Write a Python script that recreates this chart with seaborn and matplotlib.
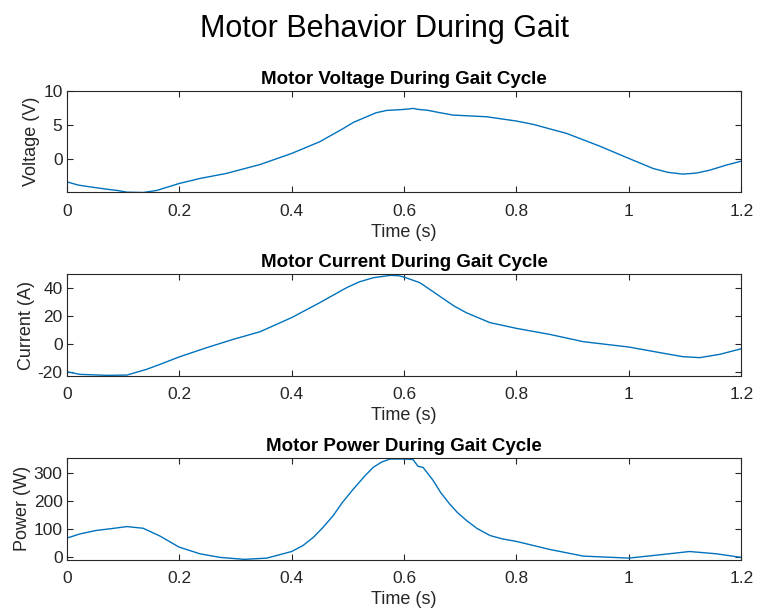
import numpy as np
import pandas as pd
import matplotlib
matplotlib.use("Agg")
import matplotlib.pyplot as plt
import seaborn as sns

# ---------------- data ----------------
t_voltage = [0.0, 0.02, 0.041, 0.071, 0.09, 0.107, 0.136, 0.16, 0.2, 0.237, 0.284,
             0.344, 0.4, 0.45, 0.492, 0.51, 0.533, 0.55, 0.569, 0.593, 0.607, 0.616, 0.625,
             0.64, 0.665, 0.687, 0.747, 0.8, 0.83, 0.889, 0.948, 1.0, 1.043, 1.07, 1.096,
             1.12, 1.144, 1.173, 1.2]
voltage = [-3.33, -3.8, -4.07, -4.41, -4.6, -4.85, -4.9, -4.6, -3.58, -2.84, -2.1,
           -0.79, 0.83, 2.55, 4.5, 5.4, 6.2, 6.8, 7.15, 7.26, 7.35, 7.45, 7.3,
           7.2, 6.8, 6.47, 6.22, 5.59, 5.1, 3.78, 1.91, 0.1, -1.37, -1.95, -2.2,
           -2.05, -1.62, -0.88, -0.3]

t_current = [0.0, 0.024, 0.071, 0.107, 0.142, 0.17, 0.2, 0.249, 0.296, 0.344, 0.4,
             0.45, 0.498, 0.52, 0.545, 0.575, 0.59, 0.6, 0.628, 0.65, 0.676, 0.69,
             0.711, 0.753, 0.8, 0.859, 0.919, 1.0, 1.055, 1.096, 1.126, 1.162, 1.2]
current = [-19.9, -21.8, -22.5, -22.3, -18.2, -14.0, -9.3, -2.65, 3.3, 8.8, 18.9,
           29.6, 40.4, 44.5, 47.5, 49.2, 49.0, 48.0, 44.0, 38.0, 30.8, 27.0,
           22.4, 15.3, 11.2, 6.9, 1.65, -2.2, -6.2, -9.1, -9.8, -7.4, -3.4]

t_power = [0.0, 0.024, 0.052, 0.077, 0.107, 0.136, 0.166, 0.2, 0.237, 0.273,
           0.316, 0.356, 0.4, 0.42, 0.439, 0.455, 0.474, 0.49, 0.51, 0.53, 0.545,
           0.56, 0.575, 0.6, 0.616, 0.625, 0.634, 0.652, 0.665, 0.681, 0.695, 0.711,
           0.73, 0.753, 0.775, 0.8, 0.859, 0.919, 1.0, 1.055, 1.108, 1.156, 1.2]
power = [68.7, 84, 96, 102, 110, 104, 76, 36.7, 12.8, 0.0,
         -7, -2.5, 21, 42, 72, 105, 149, 195, 244, 290, 321,
         340, 351, 351, 349, 325, 321, 274, 232, 191, 160, 132,
         103, 78, 66, 57, 28.5, 4.6, -2.5, 9.3, 21, 12.8, 0.0]

x_ticks = [0, 0.2, 0.4, 0.6, 0.8, 1.0, 1.2]
x_tick_labels = ["0", "0.2", "0.4", "0.6", "0.8", "1", "1.2"]

panels = [
    ("Motor Voltage During Gait Cycle", "Voltage (V)", t_voltage, voltage, (-4.9, 10), [0, 5, 10]),
    ("Motor Current During Gait Cycle", "Current (A)", t_current, current, (-22.8, 50), [-20, 0, 20, 40]),
    ("Motor Power During Gait Cycle", "Power (W)", t_power, power, (-8, 354), [0, 100, 200, 300]),
]

# ---------------- style ----------------
sns.set_theme(style="white")
plt.rcParams["font.family"] = ["Liberation Sans", "DejaVu Sans"]
txt = "#262626"
plt.rcParams.update({
    "axes.edgecolor": txt,
    "axes.linewidth": 0.8,
    "xtick.color": txt,
    "ytick.color": txt,
    "xtick.labelcolor": txt,
    "ytick.labelcolor": txt,
    "axes.labelcolor": txt,
})

fig = plt.figure(figsize=(7.58, 6.15), dpi=100)
positions = [
    [0.088, 0.687, 0.890, 0.165],
    [0.088, 0.389, 0.890, 0.165],
    [0.088, 0.090, 0.890, 0.165],
]

for pos, (title, ylabel, tx, vals, ylim, yticks) in zip(positions, panels):
    ax = fig.add_axes(pos)
    df = pd.DataFrame({"t": tx, "v": vals})
    sns.lineplot(data=df, x="t", y="v", ax=ax, color="#0072BD", linewidth=1.0,
                 estimator=None, sort=False)
    ax.set_xlim(0, 1.2)
    ax.set_ylim(*ylim)
    ax.set_xticks(x_ticks)
    ax.set_xticklabels(x_tick_labels)
    ax.set_yticks(yticks)
    ax.set_yticklabels([str(v) for v in yticks])
    ax.tick_params(direction="in", length=4, width=0.8, labelsize=12.5,
                   top=True, right=True, bottom=True, left=True)
    ax.tick_params(axis="x", pad=8)
    ax.tick_params(axis="y", pad=3)
    ax.set_title(title, fontsize=13.5, fontweight="bold", color="black", pad=5)
    ax.set_xlabel("Time (s)", fontsize=13, labelpad=4)
    ax.set_ylabel(ylabel, fontsize=13, labelpad=2)
    for s in ax.spines.values():
        s.set_visible(True)

fig.text(0.507, 1 - 37 / 615, "Motor Behavior During Gait", fontsize=22,
         ha="center", va="baseline", color="black")
fig.savefig("out.png", dpi=100)
